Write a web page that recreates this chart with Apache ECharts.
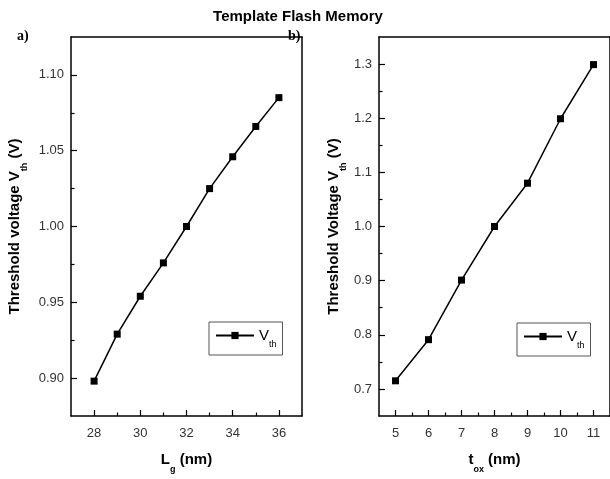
<!DOCTYPE html>
<html>
<head>
<meta charset="utf-8">
<script src="https://cdn.jsdelivr.net/npm/echarts@6/dist/echarts.min.js"></script>
<style>
  html, body { margin: 0; padding: 0; background: #fff; }
  #main { width: 610px; height: 479px; }
</style>
</head>
<body>
<div id="main"></div>
<script>
// panel a: Vth vs gate length
var lgValues = [28, 29, 30, 31, 32, 33, 34, 35, 36];
var vthA = [0.898, 0.929, 0.954, 0.976, 1.000, 1.025, 1.046, 1.066, 1.085];
var lgTicks = [28, 30, 32, 34, 36];
var lgMinor = [29, 31, 33, 35];
var vthATicks = [0.90, 0.95, 1.00, 1.05, 1.10];
var vthAMinor = [0.925, 0.975, 1.025, 1.075];

// panel b: Vth vs oxide thickness
var toxValues = [5, 6, 7, 8, 9, 10, 11];
var vthB = [0.715, 0.791, 0.901, 1.000, 1.080, 1.199, 1.299];
var toxTicks = [5, 6, 7, 8, 9, 10, 11];
var toxMinor = [5.5, 6.5, 7.5, 8.5, 9.5, 10.5];
var vthBTicks = [0.7, 0.8, 0.9, 1.0, 1.1, 1.2, 1.3];
var vthBMinor = [0.75, 0.85, 0.95, 1.05, 1.15, 1.25];

var font = 'Liberation Sans, Arial, sans-serif';
var nameRich = {
  b: { fontFamily: font, fontWeight: 'bold', fontSize: 15, color: '#000' },
  s: { fontFamily: font, fontWeight: 'bold', fontSize: 9, color: '#000', verticalAlign: 'bottom', padding: [0, 0, -7, 0] }
};
var legendRich = {
  v: { fontFamily: font, fontSize: 15, color: '#000' },
  s: { fontFamily: font, fontSize: 9, color: '#000', verticalAlign: 'bottom', padding: [0, 0, -6, 0] }
};

function pairXY (xs, ys) {
  return xs.map(function (x, i) { return [x, ys[i]] })
}

function majorAxis (opts) {
  return Object.assign({
    type: 'value',
    axisLine: { show: true, onZero: false, lineStyle: { color: '#000', width: 1.5 } },
    axisTick: { show: true, inside: true, length: 6, lineStyle: { color: '#000', width: 1.2 }, customValues: opts.ticks },
    axisLabel: { show: true, margin: opts.margin, fontFamily: font, fontSize: 13, color: '#333', customValues: opts.ticks, formatter: opts.fmt },
    splitLine: { show: false }
  }, opts.extra)
}

function minorAxis (opts) {
  return Object.assign({
    type: 'value',
    axisLine: { show: false, onZero: false },
    axisTick: { show: true, inside: true, length: 3.5, lineStyle: { color: '#000', width: 1.2 }, customValues: opts.ticks },
    axisLabel: { show: false },
    splitLine: { show: false }
  }, opts.extra)
}

function frameAxis (extra) {
  return Object.assign({
    type: 'value',
    axisLine: { show: true, onZero: false, lineStyle: { color: '#000', width: 1.5 } },
    axisTick: { show: false },
    axisLabel: { show: false },
    splitLine: { show: false }
  }, extra)
}

var option = {
  animation: false,
  title: {
    text: 'Template Flash Memory',
    left: 293,
    textAlign: 'center',
    top: 4,
    textStyle: { fontFamily: font, fontWeight: 'bold', fontSize: 15, color: '#000' }
  },
  graphic: [
    { type: 'text', x: 17, y: 29, style: { text: 'a)', font: 'bold 14px "Liberation Serif", serif', fill: '#000' } },
    { type: 'text', x: 288, y: 29, style: { text: 'b)', font: 'bold 14px "Liberation Serif", serif', fill: '#000' } }
  ],
  grid: [
    { left: 71, top: 37, width: 231, height: 384 },
    { left: 379, top: 37, width: 234, height: 385 }
  ],
  legend: [
    {
      data: ['vthA'], left: 209, top: 322, width: 76, height: 27,
      orient: 'horizontal', itemWidth: 38, itemHeight: 9, itemGap: 4,
      padding: [6, 6, 6, 6], borderColor: '#555', borderWidth: 1,
      formatter: function () { return '{v|V}{s|th}' },
      textStyle: { rich: legendRich }
    },
    {
      data: ['vthB'], left: 517, top: 323, width: 75, height: 28,
      orient: 'horizontal', itemWidth: 38, itemHeight: 9, itemGap: 4,
      padding: [6, 6, 6, 6], borderColor: '#555', borderWidth: 1,
      formatter: function () { return '{v|V}{s|th}' },
      textStyle: { rich: legendRich }
    }
  ],
  xAxis: [
    majorAxis({ ticks: lgTicks, margin: 11, fmt: function (v) { return String(v) }, extra: {
      gridIndex: 0, position: 'bottom', min: 27, max: 37,
      name: '{b|L}{s|g}{b| (nm)}', nameLocation: 'middle', nameGap: 36,
      nameTextStyle: { rich: nameRich }
    } }),
    minorAxis({ ticks: lgMinor, extra: { gridIndex: 0, position: 'bottom', min: 27, max: 37 } }),
    frameAxis({ gridIndex: 0, position: 'top', min: 27, max: 37 }),
    majorAxis({ ticks: toxTicks, margin: 11, fmt: function (v) { return String(v) }, extra: {
      gridIndex: 1, position: 'bottom', min: 4.5, max: 11.5,
      name: '{b|t}{s|ox}{b| (nm)}', nameLocation: 'middle', nameGap: 36,
      nameTextStyle: { rich: nameRich }
    } }),
    minorAxis({ ticks: toxMinor, extra: { gridIndex: 1, position: 'bottom', min: 4.5, max: 11.5 } }),
    frameAxis({ gridIndex: 1, position: 'top', min: 4.5, max: 11.5 })
  ],
  yAxis: [
    majorAxis({ ticks: vthATicks, margin: 7, fmt: function (v) { return v.toFixed(2) }, extra: {
      gridIndex: 0, position: 'left', min: 0.875, max: 1.125,
      name: '{b|Threshold voltage V}{s|th}{b| (V)}', nameLocation: 'middle', nameGap: 49,
      nameTextStyle: { rich: nameRich }
    } }),
    minorAxis({ ticks: vthAMinor, extra: { gridIndex: 0, position: 'left', min: 0.875, max: 1.125 } }),
    frameAxis({ gridIndex: 0, position: 'right', min: 0.875, max: 1.125 }),
    majorAxis({ ticks: vthBTicks, margin: 7, fmt: function (v) { return v.toFixed(1) }, extra: {
      gridIndex: 1, position: 'left', min: 0.65, max: 1.35,
      name: '{b|Threshold Voltage V}{s|th}{b| (V)}', nameLocation: 'middle', nameGap: 38,
      nameTextStyle: { rich: nameRich }
    } }),
    minorAxis({ ticks: vthBMinor, extra: { gridIndex: 1, position: 'left', min: 0.65, max: 1.35 } }),
    frameAxis({ gridIndex: 1, position: 'right', min: 0.65, max: 1.35 })
  ],
  series: [
    {
      name: 'vthA', type: 'line', xAxisIndex: 0, yAxisIndex: 0,
      data: pairXY(lgValues, vthA),
      symbol: 'rect', symbolSize: 7,
      lineStyle: { color: '#000', width: 1.5 },
      itemStyle: { color: '#000' }
    },
    {
      name: 'vthB', type: 'line', xAxisIndex: 3, yAxisIndex: 3,
      data: pairXY(toxValues, vthB),
      symbol: 'rect', symbolSize: 7,
      lineStyle: { color: '#000', width: 1.5 },
      itemStyle: { color: '#000' }
    }
  ]
}

var myChart = echarts.init(document.getElementById('main'), null, { renderer: 'canvas' })
myChart.setOption(option)
</script>
</body>
</html>
